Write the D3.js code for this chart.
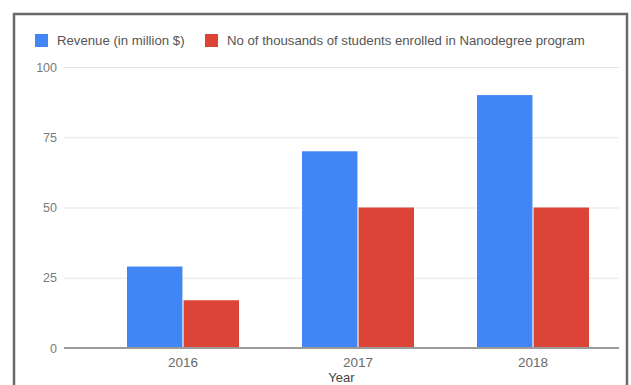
<!DOCTYPE html>
<html>
<head>
<meta charset="utf-8">
<script src="https://cdn.jsdelivr.net/npm/d3@7"></script>
<style>
html,body{margin:0;padding:0;background:#fff;}
svg{display:block;}
text{font-family:Arial,"Liberation Sans",sans-serif;}
</style>
</head>
<body>
<svg id="chart" width="631" height="385"></svg>
<script>
const years = ["2016", "2017", "2018"];
const seriesNames = ["Revenue (in million $)", "No of thousands of students enrolled in Nanodegree program"];
const revenue = [29, 70, 90];
const students = [17, 50, 50];
const yTicks = [0, 25, 50, 75, 100];
const colors = ["#4285f4", "#db4437"];
const xTitle = "Year";

const svg = d3.select("#chart");

// frame
svg.append("rect").attr("x", 14).attr("y", 14).attr("width", 613).attr("height", 400)
  .attr("fill", "#fff").attr("stroke", "#6a6a6a").attr("stroke-width", 2.5);

const plotLeft = 64, plotRight = 619;
const y = d3.scaleLinear().domain([0, 100]).range([348, 67]);
const x0 = d3.scaleBand().domain(years).range([95.5, 620.5]).paddingInner(0.36).paddingOuter(0.18);
const x1 = d3.scaleBand().domain([0, 1]).range([0, x0.bandwidth()]).paddingInner(0.02);

// grid
const yAxis = d3.axisLeft(y).tickValues(yTicks).tickSize(-(plotRight - plotLeft)).tickPadding(8);
const gy = svg.append("g").attr("transform", `translate(${plotLeft},0)`).call(yAxis);
gy.select(".domain").remove();
gy.selectAll(".tick line").attr("stroke", "#e6e6e6").attr("stroke-width", 1.2);
gy.selectAll(".tick text").attr("fill", "#7a7a7a").attr("font-size", 12.5).attr("x", -7)
  .attr("font-family", "Arial, 'Liberation Sans', sans-serif");

// bars
const data = years.map((yr, i) => ({year: yr, vals: [revenue[i], students[i]]}));
const groups = svg.append("g").selectAll("g").data(data).join("g")
  .attr("transform", d => `translate(${x0(d.year)},0)`);
groups.selectAll("rect").data(d => d.vals.map((v, k) => ({k, v}))).join("rect")
  .attr("x", d => x1(d.k)).attr("width", x1.bandwidth())
  .attr("y", d => y(d.v)).attr("height", d => y(0) - y(d.v))
  .attr("fill", d => colors[d.k]);

// baseline
svg.append("line").attr("x1", plotLeft).attr("x2", plotRight).attr("y1", y(0)).attr("y2", y(0))
  .attr("stroke", "#9a9a9a").attr("stroke-width", 2);

// x axis
const xAxis = d3.axisBottom(x0).tickSize(0).tickPadding(9);
const gx = svg.append("g").attr("transform", `translate(0,${y(0)})`).call(xAxis);
gx.select(".domain").remove();
gx.selectAll(".tick text").attr("fill", "#6a6a6a").attr("font-size", 13.5)
  .attr("font-family", "Arial, 'Liberation Sans', sans-serif");

svg.append("text").attr("x", (plotLeft + plotRight) / 2).attr("y", 382)
  .attr("text-anchor", "middle").attr("fill", "#444").attr("font-size", 13).text(xTitle);

// legend
const legX = [35, 205];
seriesNames.forEach((name, i) => {
  svg.append("rect").attr("x", legX[i]).attr("y", 34).attr("width", 13).attr("height", 13)
    .attr("fill", colors[i]);
  svg.append("text").attr("x", legX[i] + 22).attr("y", 45).attr("fill", "#555")
    .attr("font-size", 13.2).text(name);
});
</script>
</body>
</html>
